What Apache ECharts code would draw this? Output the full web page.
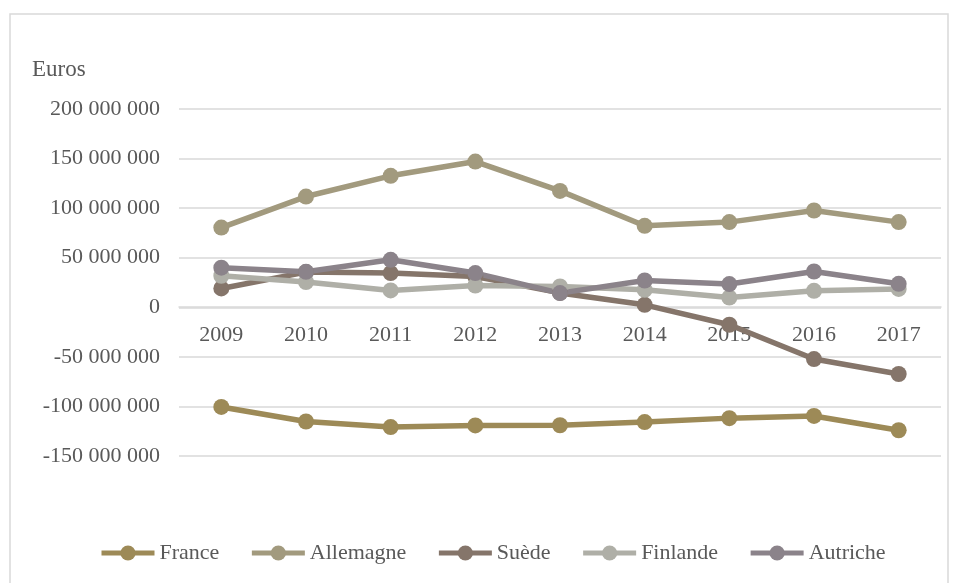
<!DOCTYPE html>
<html>
<head>
<meta charset="utf-8">
<script src="https://cdn.jsdelivr.net/npm/echarts@6/dist/echarts.min.js"></script>
<style>
  html, body { margin: 0; padding: 0; background: #fff; }
  #chart { width: 958px; height: 583px; }
</style>
</head>
<body>
<div id="chart"></div>
<script>
const years = ['2009', '2010', '2011', '2012', '2013', '2014', '2015', '2016', '2017'];

const france    = [-100.5e6, -115.2e6, -120.8e6, -119.2e6, -119.0e6, -115.8e6, -111.8e6, -109.6e6, -124.0e6];
const allemagne = [80.4e6, 111.7e6, 132.6e6, 147.0e6, 117.4e6, 82.2e6, 85.9e6, 97.6e6, 85.9e6];
const suede     = [19.0e6, 35.5e6, 34.5e6, 31.0e6, 14.5e6, 2.5e6, -17.6e6, -52.2e6, -67.3e6];
const finlande  = [31.8e6, 25.5e6, 17.0e6, 22.0e6, 21.0e6, 17.6e6, 9.9e6, 16.6e6, 18.5e6];
const autriche  = [40.0e6, 35.8e6, 47.9e6, 34.5e6, 14.3e6, 27.0e6, 23.4e6, 36.1e6, 23.7e6];

const seriesNames = ['France', 'Allemagne', 'Suède', 'Finlande', 'Autriche'];
const seriesData = [france, allemagne, suede, finlande, autriche];
const colors = ['#9d8a57', '#a29a7e', '#85756a', '#afafa7', '#8b838a'];

const font = '"Liberation Serif", "DejaVu Serif", serif';

// format like 200 000 000
function fmt(v) {
  const s = Math.abs(v).toFixed(0).replace(/\B(?=(\d{3})+(?!\d))/g, ' ');
  return (v < 0 ? '-' : '') + s;
}

const myChart = echarts.init(document.getElementById('chart'));
const option = {
  animation: false,
  color: colors,
  textStyle: { fontFamily: font },
  graphic: [
    {
      type: 'rect',
      shape: { x: 10, y: 14, width: 938, height: 580 },
      style: { fill: 'none', stroke: '#d9d9d9', lineWidth: 1.5 },
    },
    {
      type: 'text',
      left: 32,
      top: 58,
      style: { text: 'Euros', font: '23px ' + font, fill: '#595959' },
    },
  ],
  grid: { left: 179, right: 17, top: 109, bottom: 127 },
  legend: {
    bottom: 14,
    left: 94,
    itemWidth: 53,
    itemHeight: 19,
    itemGap: 30,
    lineStyle: { width: 5 },
    textStyle: { fontSize: 22, color: '#595959', fontFamily: font },
    data: seriesNames,
  },
  xAxis: {
    type: 'category',
    data: years,
    boundaryGap: true,
    offset: -149,
    axisLine: { show: true, onZero: false, lineStyle: { color: '#d9d9d9', width: 1.5 } },
    axisTick: { show: false },
    axisLabel: { fontSize: 22, color: '#595959', margin: 17, fontFamily: font },
  },
  yAxis: {
    type: 'value',
    min: -150000000,
    max: 200000000,
    interval: 50000000,
    axisLine: { show: false },
    axisTick: { show: false },
    splitLine: { lineStyle: { color: '#d9d9d9', width: 1.5 } },
    axisLabel: { fontSize: 22, color: '#595959', margin: 19, fontFamily: font, formatter: fmt },
  },
  series: seriesNames.map((name, i) => ({
    name: name,
    type: 'line',
    data: seriesData[i],
    symbol: 'circle',
    symbolSize: 16,
    lineStyle: { width: 5.5, color: colors[i] },
    itemStyle: { color: colors[i] },
  })),
};
myChart.setOption(option);
</script>
</body>
</html>
